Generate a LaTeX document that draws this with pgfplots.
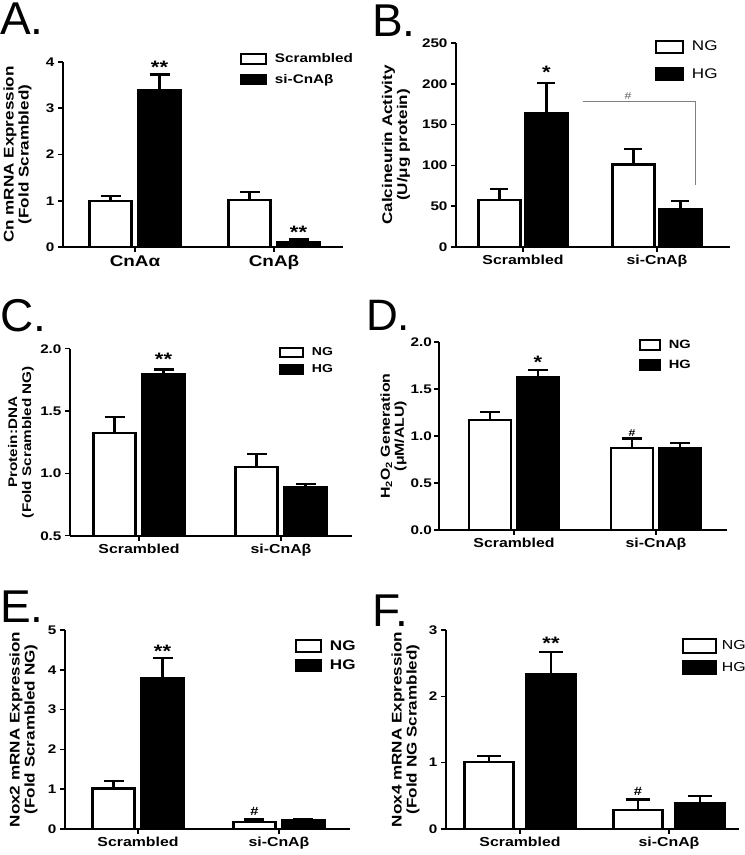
\documentclass[border=0pt]{standalone}
\usepackage{fontspec}
\setmainfont[FakeStretch=1.22]{Liberation Sans}
\newfontfamily\letterfont{Liberation Sans}
\usepackage{pgfplots}
\pgfplotsset{compat=1.18}
\pgfplotsset{
  panel/.style={
    scale only axis, axis lines=left,
    axis line style={-, line width=2pt},
    ybar, ymin=0, xtick={0,1},
    tick align=outside, major tick length=5pt,
    tick style={black, line width=1.6pt},
    yticklabel={\pgfmathprintnumber{\tick}},
    yticklabel style={font=\bfseries\fontsize{12.5}{14}\selectfont},
    xticklabel style={font=\bfseries\fontsize{13}{15}\selectfont},
    /pgf/number format/assume math mode=true,
    clip mode=individual,
    legend cell align=left,
    legend style={draw=none, fill=none, inner sep=0pt, anchor=north west,
      /tikz/every odd column/.append style={column sep=6pt}},
    every axis y label/.style={rotate=90, anchor=center, align=center, font=\bfseries\fontsize{14}{15}\selectfont},
  },
  eb/.style={error bars/.cd, y dir=plus, y explicit, error mark=-,
    error bar style={line width=2.2pt, black},
    error mark options={rotate=90, line width=2.2pt, black, mark size=#1}},
  wb/.style={fill=white, draw=black, line width=2.2pt},
  bb/.style={fill=black, draw=black, line width=2.2pt},
}
\tikzset{star/.style={anchor=base, font=\bfseries\fontsize{18}{18}\selectfont, inner sep=0pt},
  letter/.style={anchor=base west, inner sep=0pt, font=\letterfont\fontsize{46}{46}\selectfont}}
\begin{document}
\begin{tikzpicture}
\useasboundingbox (0,0) rectangle (745pt,855pt);

% panel letters
\node[letter] at (0pt,820pt) {A.};
\node[letter] at (372pt,818pt) {B.};
\node[letter] at (0pt,523pt) {C.};
\node[letter, font=\letterfont\fontsize{44}{44}\selectfont] at (366pt,524pt) {D.};
\node[letter] at (0pt,232pt) {E.};
\node[letter] at (372pt,228pt) {F.};

% ---------------- A ----------------
\begin{axis}[panel, at={(63pt,608pt)}, anchor=south west,
  width=280pt, height=185pt, xmin=-0.518, xmax=1.496, ymax=4, ytick={0,1,2,3,4},
  bar width=42pt,
  xticklabels={CnAα, CnAβ},
  xticklabel style={font=\bfseries\fontsize{15.5}{17}\selectfont},
  ylabel={Cn mRNA Expression\\(Fold Scrambled)},
  ylabel style={at={(rel axis cs:-0.1625,0.5)}},
  legend style={at={(rel axis cs:0.632,1.057)}, font=\bfseries\fontsize{12.5}{14}\selectfont, row sep=6pt},
  legend image code/.code={\draw[#1, line width=1.8pt] (0pt,-5pt) rectangle (25pt,5pt);},
]
\addplot[wb, bar shift=-24.5pt, eb=10pt] coordinates {(0,1.00) +- (0,0.10) (1,1.02) +- (0,0.17)};
\addplot[bb, bar shift=24.5pt, eb=10pt] coordinates {(0,3.39) +- (0,0.34) (1,0.11) +- (0,0.05)};
\legend{Scrambled, si-CnAβ}
\node[star, xshift=24.5pt] at (axis cs:0,3.76) {**};
\node[star, xshift=24.5pt] at (axis cs:1,0.19) {**};
\end{axis}

% ---------------- B ----------------
\begin{axis}[panel, at={(456pt,608pt)}, anchor=south west,
  width=274pt, height=204pt, xmin=-0.5, xmax=1.545, ymax=250, ytick={0,50,100,150,200,250},
  bar width=42pt,
  xticklabels={Scrambled, si-CnAβ},
  ylabel={Calcineurin Activity\\(U/μg protein)},
  ylabel style={at={(rel axis cs:-0.219,0.5)}},
  legend style={at={(rel axis cs:0.726,1.02)}, font=\fontsize{14}{16}\selectfont, row sep=12pt},
  legend image code/.code={\draw[#1, line width=1.8pt] (0pt,-6pt) rectangle (27pt,6pt);},
]
\addplot[wb, bar shift=-23.5pt, eb=9pt] coordinates {(0,58) +- (0,13.5) (1,101) +- (0,19)};
\addplot[bb, bar shift=23.5pt, eb=9pt] coordinates {(0,164) +- (0,37) (1,47) +- (0,9)};
\legend{NG, HG}
\node[star, xshift=23.5pt] at (axis cs:0,207) {*};
\draw[gray, line width=0.8pt] (axis cs:0.448,178) -- (axis cs:1.284,178) -- (axis cs:1.284,76);
\node[anchor=base, inner sep=0pt, text=gray!70!black, font=\fontsize{10}{12}\selectfont] at (axis cs:0.784,180.5) {\#};
\end{axis}

% ---------------- C ----------------
\begin{axis}[panel, at={(70pt,319.3pt)}, anchor=south west,
  width=282pt, height=187pt, xmin=-0.486, xmax=1.5, ymin=0.5, ymax=2.0, ytick={0.5,1,1.5,2},
  yticklabel style={/pgf/number format/.cd, fixed, fixed zerofill, precision=1},
  bar width=42pt,
  xticklabels={Scrambled, si-CnAβ},
  ylabel={Protein:DNA\\(Fold Scrambled NG)},
  ylabel style={at={(rel axis cs:-0.174,0.5)}, font=\bfseries\fontsize{12.5}{14}\selectfont},
  legend style={at={(rel axis cs:0.741,1.019)}, font=\bfseries\fontsize{11.5}{13}\selectfont, row sep=3.5pt},
  legend image code/.code={\draw[#1, line width=1.8pt] (0pt,-4.5pt) rectangle (23pt,4.5pt);},
]
\addplot[wb, bar shift=-24.5pt, eb=10pt] coordinates {(0,1.323) +- (0,0.13) (1,1.052) +- (0,0.104)};
\addplot[bb, bar shift=24.5pt, eb=10pt] coordinates {(0,1.798) +- (0,0.035) (1,0.893) +- (0,0.021)};
\legend{NG, HG}
\node[star, xshift=24.5pt] at (axis cs:0,1.868) {**};
\end{axis}

% ---------------- D ----------------
\begin{axis}[panel, at={(439pt,325pt)}, anchor=south west,
  width=288pt, height=188pt, xmin=-0.528, xmax=1.5, ymax=2.0, ytick={0,0.5,1,1.5,2},
  yticklabel style={inner sep=2pt, /pgf/number format/.cd, fixed, fixed zerofill, precision=1},
  bar width=42pt,
  xticklabels={Scrambled, si-CnAβ},
  ylabel={H\textsubscript{2}O\textsubscript{2} Generation\\(μM/ALU)},
  ylabel style={at={(rel axis cs:-0.158,0.5)}, font=\bfseries\fontsize{13}{14}\selectfont},
  legend style={at={(rel axis cs:0.694,1.02)}, font=\bfseries\fontsize{12}{14}\selectfont, row sep=6pt},
  legend image code/.code={\draw[#1, line width=1.8pt] (0pt,-5pt) rectangle (20pt,5pt);},
]
\addplot[wb, bar shift=-24pt, eb=10pt] coordinates {(0,1.172) +- (0,0.085) (1,0.874) +- (0,0.10)};
\addplot[bb, bar shift=24pt, eb=10pt] coordinates {(0,1.623) +- (0,0.08) (1,0.870) +- (0,0.055)};
\legend{NG, HG}
\node[star, xshift=24pt] at (axis cs:0,1.72) {*};
\node[anchor=base, inner sep=0pt, font=\bfseries\fontsize{10}{12}\selectfont, xshift=-24pt] at (axis cs:1,0.995) {\#};
\end{axis}

% ---------------- E ----------------
\begin{axis}[panel, at={(65pt,26pt)}, anchor=south west,
  width=285pt, height=199pt, xmin=-0.518, xmax=1.504, ymax=5, ytick={0,1,2,3,4,5},
  bar width=42pt,
  xticklabels={Scrambled, si-CnAβ},
  ylabel={Nox2 mRNA Expression\\(Fold Scrambled NG)},
  ylabel style={at={(rel axis cs:-0.146,0.5)}},
  legend style={at={(rel axis cs:0.807,0.958)}, font=\bfseries\fontsize{14}{16}\selectfont, row sep=4pt},
  legend image code/.code={\draw[#1, line width=1.8pt] (0pt,-6pt) rectangle (25pt,6pt);},
]
\addplot[wb, bar shift=-24.5pt, eb=10pt] coordinates {(0,1.02) +- (0,0.19) (1,0.18) +- (0,0.06)};
\addplot[bb, bar shift=24.5pt, eb=10pt] coordinates {(0,3.80) +- (0,0.49) (1,0.23) +- (0,0.03)};
\legend{NG, HG}
\node[star, xshift=24.5pt] at (axis cs:0,4.32) {**};
\node[anchor=base, inner sep=0pt, font=\bfseries\fontsize{12}{14}\selectfont, xshift=-24.5pt] at (axis cs:1,0.35) {\#};
\end{axis}

% ---------------- F ----------------
\begin{axis}[panel, at={(446pt,26pt)}, anchor=south west,
  width=293pt, height=199pt, xmin=-0.497, xmax=1.47, ymax=3, ytick={0,1,2,3},
  bar width=49pt,
  xticklabels={Scrambled, si-CnAβ},
  ylabel={Nox4 mRNA Expression\\(Fold NG Scrambled)},
  ylabel style={at={(rel axis cs:-0.138,0.5)}},
  legend style={at={(rel axis cs:0.805,0.962)}, font=\fontsize{13}{15}\selectfont, row sep=6pt,
    /tikz/every odd column/.append style={column sep=3pt}},
  legend image code/.code={\draw[#1, line width=1.8pt] (0pt,-7pt) rectangle (33pt,7pt);},
]
\addplot[wb, bar shift=-31pt, eb=12pt] coordinates {(0,1.005) +- (0,0.095) (1,0.286) +- (0,0.16)};
\addplot[bb, bar shift=31pt, eb=12pt] coordinates {(0,2.34) +- (0,0.33) (1,0.397) +- (0,0.10)};
\legend{NG, HG}
\node[star, xshift=31pt] at (axis cs:0,2.71) {**};
\node[anchor=base, inner sep=0pt, font=\bfseries\fontsize{12}{14}\selectfont, xshift=-31pt] at (axis cs:1,0.51) {\#};
\end{axis}
\end{tikzpicture}
\end{document}
